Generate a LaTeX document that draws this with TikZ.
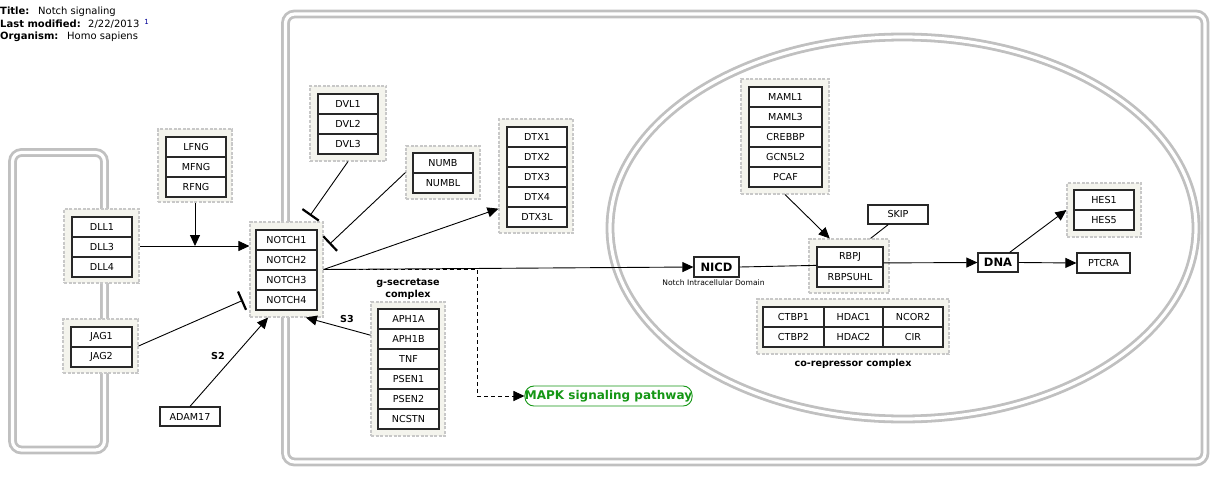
\documentclass[tikz,border=0pt]{standalone}
\usepackage{fontspec}
\setmainfont{DejaVu Sans}
\usetikzlibrary{arrows.meta,calc,positioning}
\definecolor{cellgray}{RGB}{192,192,192}
\definecolor{grpfill}{RGB}{244,244,237}
\definecolor{grpline}{RGB}{200,200,200}
\definecolor{boxline}{RGB}{40,40,40}
\definecolor{mapkgreen}{RGB}{20,150,20}
\definecolor{refblue}{RGB}{0,0,150}
\tikzset{
  cellline/.style={draw=cellgray, line width=2.8pt, double=white, double distance=3.2pt, rounded corners=9pt},
  grp/.style={draw=grpline, dash pattern=on 3pt off 1.5pt, line width=1.1pt, fill=grpfill, inner sep=0pt},
  ibox/.style={draw=boxline, line width=1.2pt, fill=white, inner sep=0pt, font=\fontsize{9.6}{11}\selectfont},
  bigbox/.style={draw=boxline, line width=1.2pt, fill=white, inner sep=0pt, font=\bfseries\fontsize{11.5}{13}\selectfont},
  lbl/.style={inner sep=0pt, font=\bfseries\fontsize{9.6}{12}\selectfont},
  edge/.style={line width=0.9pt, draw=black},
  arr/.style={edge, -{Triangle[length=11pt,width=10pt]}},
  inh/.style={edge, -{Bar[width=20pt,line width=2.2pt]}, shorten >=7pt},
  ttl/.style={anchor=base west, inner sep=0pt, font=\fontsize{10}{12}\selectfont}
}
\begin{document}
\begin{tikzpicture}[x=1pt,y=-1pt]
\useasboundingbox (0,0) rectangle (1228,484);
% title block
\node[ttl] (t1) at (0,15) {\makebox[38pt][l]{\textbf{Title:}}Notch signaling};
\node[ttl] (t2) at (0,27.5) {\makebox[88pt][l]{\textbf{Last modified:}}2/22/2013\hspace{5pt}\raisebox{3pt}{\color{refblue}\fontsize{7}{8}\selectfont 1}};
\node[ttl] (t3) at (0,40) {\makebox[67pt][l]{\textbf{Organism:}}Homo sapiens};
% cells
\draw[cellline] (12.5,152.5) rectangle (104.5,450);
\draw[cellline] (285.5,14) rectangle (1205,462);
\draw[draw=cellgray, line width=2.8pt, double=white, double distance=3.2pt] (903,228) ellipse [x radius=293, y radius=191];
% groups
\node[grp, minimum width=74pt, minimum height=73pt] (gFNG) at (195,165.5) {};
\node[grp, minimum width=75pt, minimum height=74pt] (gDLL) at (101.5,246) {};
\node[grp, minimum width=75pt, minimum height=54pt] (gJAG) at (100.5,346) {};
\node[grp, minimum width=73pt, minimum height=95pt] (gNOTCH) at (286.5,269.5) {};
\node[grp, minimum width=76pt, minimum height=75pt] (gDVL) at (348,123.5) {};
\node[grp, minimum width=74pt, minimum height=53pt] (gNUMB) at (443,172.5) {};
\node[grp, minimum width=74pt, minimum height=114pt] (gDTX) at (536,176) {};
\node[grp, minimum width=74pt, minimum height=134pt] (gSEC) at (408,369) {};
\node[grp, minimum width=88pt, minimum height=115pt] (gMAML) at (785,136.5) {};
\node[grp, minimum width=80pt, minimum height=54pt] (gRBPJ) at (849,266) {};
\node[grp, minimum width=192pt, minimum height=55pt] (gCOR) at (853,326.5) {};
\node[grp, minimum width=74pt, minimum height=54pt] (gHES) at (1104,210) {};
% inner boxes
\tikzset{w60/.style={ibox, minimum width=60pt, minimum height=20pt}}
\node[w60] (lfng) at (196,147) {LFNG};
\node[w60] (mfng) at (196,167) {MFNG};
\node[w60] (rfng) at (196,187) {RFNG};
\node[w60] (dll1) at (102,227) {DLL1};
\node[w60] (dll3) at (102,247) {DLL3};
\node[w60] (dll4) at (102,267) {DLL4};
\node[w60, minimum width=61pt] (jag1) at (101.5,337) {JAG1};
\node[w60, minimum width=61pt] (jag2) at (101.5,357) {JAG2};
\node[w60, minimum width=61pt] (notch1) at (286.5,240) {NOTCH1};
\node[w60, minimum width=61pt] (notch2) at (286.5,260) {NOTCH2};
\node[w60, minimum width=61pt] (notch3) at (286.5,280) {NOTCH3};
\node[w60, minimum width=61pt] (notch4) at (286.5,300) {NOTCH4};
\node[w60] (dvl1) at (348,104) {DVL1};
\node[w60] (dvl2) at (348,124) {DVL2};
\node[w60] (dvl3) at (348,144) {DVL3};
\node[w60] (numb) at (443,163) {NUMB};
\node[w60] (numbl) at (443,183) {NUMBL};
\node[w60] (dtx1) at (537,137) {DTX1};
\node[w60] (dtx2) at (537,157) {DTX2};
\node[w60] (dtx3) at (537,177) {DTX3};
\node[w60] (dtx4) at (537,197) {DTX4};
\node[w60] (dtx3l) at (537,217) {DTX3L};
\node[w60, minimum width=61pt] (aph1a) at (408.5,319) {APH1A};
\node[w60, minimum width=61pt] (aph1b) at (408.5,339) {APH1B};
\node[w60, minimum width=61pt] (tnf) at (408.5,359) {TNF};
\node[w60, minimum width=61pt] (psen1) at (408.5,379) {PSEN1};
\node[w60, minimum width=61pt] (psen2) at (408.5,399) {PSEN2};
\node[w60, minimum width=61pt] (ncstn) at (408.5,419) {NCSTN};
\node[w60, minimum width=73pt] (maml1) at (785.5,97) {MAML1};
\node[w60, minimum width=73pt] (maml3) at (785.5,117) {MAML3};
\node[w60, minimum width=73pt] (crebbp) at (785.5,137) {CREBBP};
\node[w60, minimum width=73pt] (gcn) at (785.5,157) {GCN5L2};
\node[w60, minimum width=73pt] (pcaf) at (785.5,177) {PCAF};
\node[w60, minimum width=66pt] (rbpj) at (850,257) {RBPJ};
\node[w60, minimum width=66pt] (rbpsuhl) at (850,277) {RBPSUHL};
\node[w60, minimum width=61pt] (ctbp1) at (793.5,317) {CTBP1};
\node[w60, minimum width=59pt] (hdac1) at (853.5,317) {HDAC1};
\node[w60] (ncor2) at (913,317) {NCOR2};
\node[w60, minimum width=61pt] (ctbp2) at (793.5,337) {CTBP2};
\node[w60, minimum width=59pt] (hdac2) at (853.5,337) {HDAC2};
\node[w60] (cir) at (913,337) {CIR};
\node[w60] (hes1) at (1104,200) {HES1};
\node[w60] (hes5) at (1104,220) {HES5};
% single boxes
\node[w60, minimum height=19pt] (adam) at (190,416.5) {ADAM17};
\node[w60, minimum height=19pt] (skip) at (898,214.5) {SKIP};
\node[w60, minimum width=53pt] (ptcra) at (1103.5,263) {PTCRA};
\node[bigbox, minimum width=45pt, minimum height=20pt] (nicd) at (716.5,267) {NICD};
\node[bigbox, minimum width=40pt, minimum height=19pt] (dna) at (998,262.5) {DNA};
\node[draw=mapkgreen, fill=white, rounded corners=9pt, line width=0.9pt, minimum width=163pt, minimum height=20pt, inner sep=0pt, text=mapkgreen, font=\bfseries\fontsize{12}{13}\selectfont] (mapk) at (608.5,396) {MAPK signaling pathway};
% labels
\node[lbl, align=center, anchor=south] (seclbl) at ($(gSEC.north)+(0,-2)$) {g-secretase\\complex};
\node[lbl, anchor=north] (corlbl) at ($(gCOR.south)+(0,4)$) {co-repressor complex};
\node[inner sep=0pt, anchor=north, font=\fontsize{7.6}{9}\selectfont] (nicdlbl) at ($(nicd.south)+(-3,2)$) {Notch Intracellular Domain};
\node[lbl] (s2) at (218,356) {S2};
\node[lbl] (s3) at (347,319) {S3};
% edges
\coordinate (fngT) at (gFNG.south |- gDLL.east);
\draw[arr] (gDLL.east) -- (gNOTCH.west |- gDLL.east);
\draw[arr] (gFNG.south) -- (fngT);
\draw[inh] (gJAG.east) -- (gNOTCH.217);
\draw[arr] (adam.north) -- (gNOTCH.249);
\draw[arr] (gSEC.138) -- (gNOTCH.292);
\draw[inh] (gDVL.south) -- (gNOTCH.68);
\draw[inh, shorten >=8pt] (gNUMB.west) -- (gNOTCH.28);
\draw[arr] (gNOTCH.east) -- (gDTX.221);
\draw[arr] (gNOTCH.east) -- (nicd.west);
\coordinate (dturn) at (477,396);
\draw[edge, dash pattern=on 4pt off 3pt, -{Triangle[length=11pt,width=10pt]}] (gNOTCH.east) -- (dturn |- gNOTCH.east) -- (dturn) -- (mapk.west);
\draw[edge] (nicd.east) -- (rbpj.194);
\draw[arr] (rbpj.350) -- (dna.west);
\draw[arr] (gMAML.south) -- (gRBPJ.125);
\draw[edge] (skip.226) -- (gRBPJ.52);
\draw[arr] (dna.41) -- (gHES.west);
\draw[arr] (dna.east) -- (ptcra.west);
\end{tikzpicture}
\end{document}
